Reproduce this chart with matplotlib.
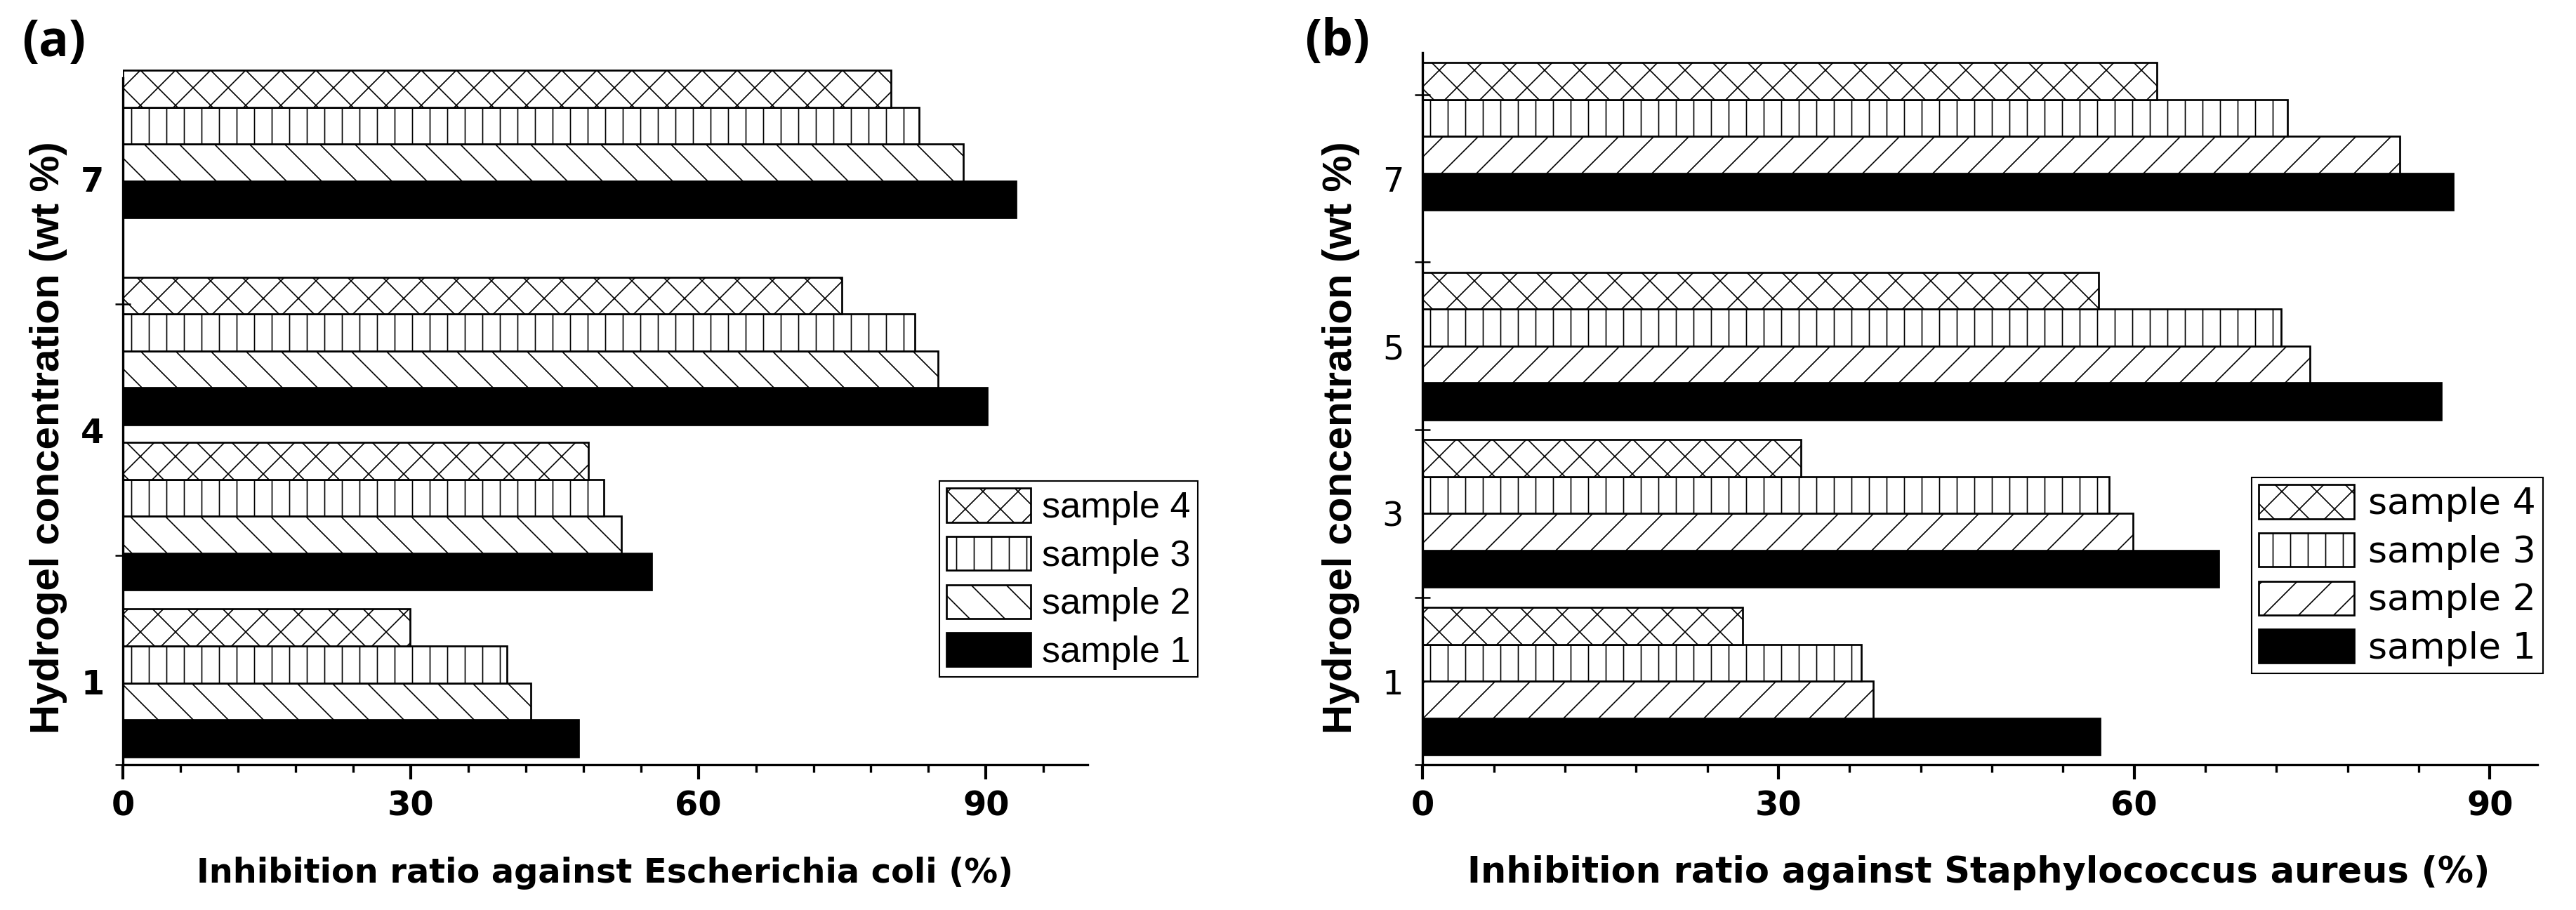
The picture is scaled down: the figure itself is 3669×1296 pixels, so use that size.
import matplotlib

matplotlib.use("Agg")
import matplotlib.pyplot as plt
from matplotlib.font_manager import FontProperties
from matplotlib.ticker import FixedLocator, MultipleLocator

# hydrogel concentration labels (wt %) shown on the y axes
ticks_a = [1, 4, 7]
ticks_b = [1, 3, 5, 7]
group_pos_a = [0.98, 2.97, 4.94, 7.41]
group_pos_b = [1.0, 3.0, 5.0, 7.5]
samples = ["sample 1", "sample 2", "sample 3", "sample 4"]

# inhibition ratio (%) per sample, groups listed bottom to top
ecoli = [
    [47.5, 55.1, 90.1, 93.1],  # sample 1
    [42.5, 52.0, 85.0, 87.6],  # sample 2
    [40.0, 50.1, 82.6, 83.0],  # sample 3
    [29.9, 48.5, 75.0, 80.1],  # sample 4
]
saureus = [
    [57.1, 67.1, 85.9, 86.9],
    [38.0, 59.9, 74.8, 82.4],
    [37.0, 57.9, 72.4, 72.9],
    [27.0, 31.9, 57.0, 61.9],
]

plt.rcParams["hatch.linewidth"] = 0.8
DPI = 150
fig = plt.figure(figsize=(3670 / DPI, 1296 / DPI), dpi=DPI)

BAR_H = 0.44


def draw_panel(ax, data, group_pos, hatches, xmax, yticks, yminor, spine_top,
               ytick_weight, legend_family, legend_anchor, handlelength, textpad):
    bars = []
    for i, (vals, hatch) in enumerate(zip(data, hatches)):
        ys = [p + (i - 1.5) * BAR_H for p in group_pos]
        if hatch is None:
            b = ax.barh(ys, vals, height=BAR_H, color="black", edgecolor="black",
                        linewidth=1.3, label=samples[i])
        else:
            b = ax.barh(ys, vals, height=BAR_H, color="white", edgecolor="black",
                        hatch=hatch, linewidth=1.3, label=samples[i])
        bars.append(b)

    ax.set_xlim(0, xmax)
    ax.set_ylim(0, 8.5)
    for side in ("top", "right"):
        ax.spines[side].set_visible(False)
    for side in ("left", "bottom"):
        ax.spines[side].set_linewidth(1.6)
    ax.spines["left"].set_bounds(0, spine_top)

    ax.xaxis.set_major_locator(MultipleLocator(30))
    ax.xaxis.set_minor_locator(MultipleLocator(6))
    ax.tick_params(axis="x", which="major", length=10, width=2, pad=7)
    ax.tick_params(axis="x", which="minor", length=5.3, width=1.6)

    ax.yaxis.set_major_locator(FixedLocator(yticks))
    ax.yaxis.set_minor_locator(FixedLocator(yminor))
    ax.tick_params(axis="y", which="major", length=0, pad=13)
    ax.tick_params(axis="y", which="minor", direction="inout", length=11, width=1.2)
    ax.set_yticklabels([str(t) for t in yticks])
    for lab in ax.get_xticklabels():
        lab.set_fontproperties(FontProperties(family="DejaVu Sans", weight="bold", size=23))
    for lab in ax.get_yticklabels():
        lab.set_fontproperties(FontProperties(family="DejaVu Sans", weight=ytick_weight, size=23))

    leg = ax.legend(handles=bars[::-1], loc="upper left", bbox_to_anchor=legend_anchor,
                    bbox_transform=fig.transFigure, borderaxespad=0,
                    prop=dict(family=legend_family, size=25), frameon=True,
                    fancybox=False, framealpha=1, edgecolor="black",
                    handlelength=handlelength, handleheight=1.05,
                    handletextpad=textpad, labelspacing=0.3, borderpad=0.2)
    leg.get_frame().set_linewidth(1.0)
    return ax


ax_a = fig.add_axes([0.04782, 0.15934, 0.37425, 0.78279])
draw_panel(ax_a, ecoli, group_pos_a, [None, "\\", "|", "x"], 100.6, ticks_a,
           [0, 2.5, 5.5], 8.2, "bold",
           "Liberation Sans", (1338 / 3670, 1 - 685 / 1296), 2.3, 0.3)

ax_b = fig.add_axes([0.55215, 0.15934, 0.43259, 0.78279])
draw_panel(ax_b, saureus, group_pos_b, [None, "/", "|", "x"], 94, ticks_b,
           [0, 2, 4, 6, 8], 8.5, "normal",
           "DejaVu Sans", (3207 / 3670, 1 - 680 / 1296), 2.6, 0.38)

# axis titles
fig.text(862 / 3670, 1 - 1257 / 1296, "Inhibition ratio against Escherichia coli (%)",
         ha="center", va="baseline", family="DejaVu Sans", weight="bold", size=23)
fig.text(2818 / 3670, 1 - 1257 / 1296, "Inhibition ratio against Staphylococcus aureus (%)",
         ha="center", va="baseline", family="DejaVu Sans", weight="bold", size=24.5)

ylab = "Hydrogel concentration (wt %)"
fig.text(69 / 3670, 1 - 623.5 / 1296, ylab, rotation=90, ha="center", va="center",
         family="Liberation Sans", weight="bold", size=28)
fig.text(1910 / 3670, 1 - 623.5 / 1296, ylab, rotation=90, ha="center", va="center",
         family="Liberation Sans", weight="bold", size=28)

fig.text(77 / 3670, 1 - 61 / 1296, "(a)", ha="center", va="center",
         family="Open Sans", weight="bold", size=34)
fig.text(1905 / 3670, 1 - 60 / 1296, "(b)", ha="center", va="center",
         family="Open Sans", weight="bold", size=34)

fig.savefig("out.png", dpi=DPI, facecolor="white")
